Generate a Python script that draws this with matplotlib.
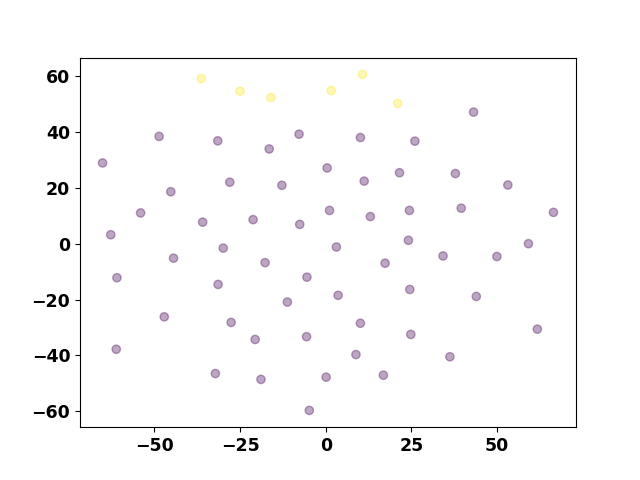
import matplotlib
matplotlib.use('Agg')
import matplotlib.pyplot as plt
from matplotlib.ticker import MultipleLocator


# 两类点: 0 = 紫色, 1 = 黄色
yellow_x = [-36.3, -25.0, -16.0, 1.6, 10.7, 21.0]
yellow_y = [59.1, 54.6, 52.3, 54.8, 60.6, 50.2]

purple_x = [-48.6, -31.5, -16.5, -7.8, -65.1, -28.0, -45.2, -12.8, 0.4, -54.0,
            -35.9, -21.2, -7.6, 1.1, -62.7, 43.1, 10.1, 26.0, 11.2, 21.5,
            37.8, 53.1, 13.0, 24.4, 39.5, 66.4, -29.9, -44.4, -17.7, -60.9,
            -31.4, -5.5, -11.2, -47.1, -27.6, -20.6, -5.6, -61.1, -32.2, -18.9,
            0.1, -4.8, 3.1, 24.1, 59.1, 17.3, 34.2, 49.9, 3.6, 24.5,
            43.9, 10.1, 24.8, 61.7, 8.8, 36.2, 16.8]
purple_y = [38.4, 36.8, 33.9, 39.2, 28.9, 22.0, 18.6, 20.9, 27.1, 11.0,
            7.7, 8.6, 6.9, 11.9, 3.2, 47.1, 38.0, 36.7, 22.4, 25.4,
            25.1, 21.0, 9.7, 11.9, 12.7, 11.2, -1.6, -5.2, -6.8, -12.2,
            -14.6, -12.0, -20.9, -26.2, -28.2, -34.3, -33.3, -37.8, -46.5, -48.6,
            -47.8, -59.7, -1.2, 1.2, 0.0, -7.0, -4.4, -4.6, -18.5, -16.4,
            -18.9, -28.5, -32.5, -30.6, -39.7, -40.5, -47.1]

x = purple_x + yellow_x
y = purple_y + yellow_y
labels = [0] * len(purple_x) + [1] * len(yellow_x)

plt.rcParams['font.weight'] = 'bold'
plt.rcParams['font.size'] = 12.5

fig = plt.figure(figsize=(6.4, 4.8), dpi=100)
ax = fig.add_subplot(111)
ax.scatter(x, y, c=labels, cmap='viridis', alpha=0.35)

# x 轴刻度间隔 25, y 轴 20
ax.xaxis.set_major_locator(MultipleLocator(25))
ax.yaxis.set_major_locator(MultipleLocator(20))

plt.savefig('out.png')
